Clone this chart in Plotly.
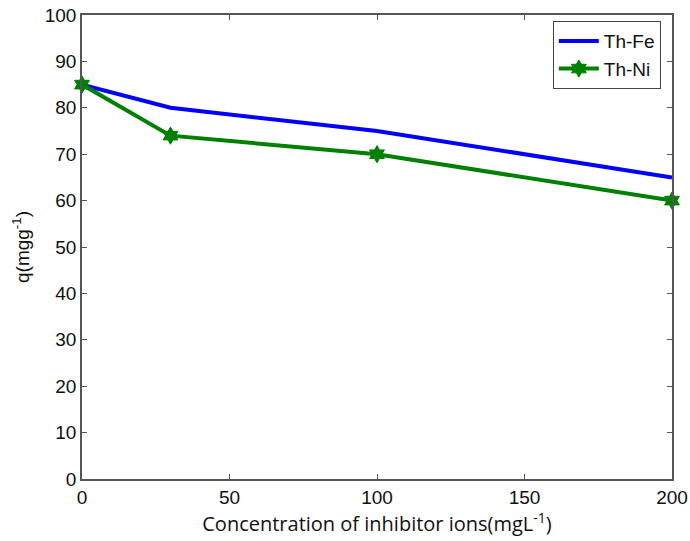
import plotly.graph_objects as go

# Inhibitor ion concentration (mg/L) and adsorption capacity q (mg/g)
conc = [0, 30, 100, 200]
q_th_fe = [85, 80, 75, 65]
q_th_ni = [85, 74, 70, 60]

x_ticks = [0, 50, 100, 150, 200]
y_ticks = [0, 10, 20, 30, 40, 50, 60, 70, 80, 90, 100]

fig = go.Figure()
fig.add_trace(go.Scatter(
    x=conc, y=q_th_fe, name="Th-Fe", mode="lines",
    line=dict(color="#0000ff", width=4), cliponaxis=False,
))
fig.add_trace(go.Scatter(
    x=conc, y=q_th_ni, name="Th-Ni", mode="lines+markers",
    line=dict(color="#008000", width=4), cliponaxis=False,
    marker=dict(symbol="hexagram", size=13, color="#008000",
                line=dict(color="#008000", width=1)),
))

axis_common = dict(
    showgrid=False, zeroline=False, showline=True, mirror="ticks",
    linecolor="#555555", linewidth=1.5, ticks="inside", ticklen=5,
    tickcolor="#555555", ticklabeloverflow="allow", automargin=False,
    tickfont=dict(family="Liberation Sans, Arial", size=19, color="#111111"),
)

fig.update_layout(
    width=690, height=541,
    margin=dict(l=82, r=18, t=15, b=62),
    paper_bgcolor="white", plot_bgcolor="white",
    xaxis=dict(range=[0, 200], tickvals=x_ticks, **axis_common,
               title=dict(text="Concentration of inhibitor ions(mgL<sup>-1</sup>)",
                          font=dict(family="Open Sans, Liberation Sans", size=20, color="#111111"),
                          standoff=4)),
    yaxis=dict(range=[0, 100], tickvals=y_ticks, **axis_common,
               title=dict(text="q(mgg<sup>-1</sup>)",
                          font=dict(family="Liberation Sans, Arial", size=19, color="#111111"),
                          standoff=10)),
    legend=dict(x=0.798, y=0.987, xanchor="left", yanchor="top",
                bgcolor="white", bordercolor="#444444", borderwidth=1,
                font=dict(family="Liberation Sans, Arial", size=19, color="#111111"),
                tracegroupgap=0, itemwidth=40),
    showlegend=True,
)

fig.write_html("out.html")
